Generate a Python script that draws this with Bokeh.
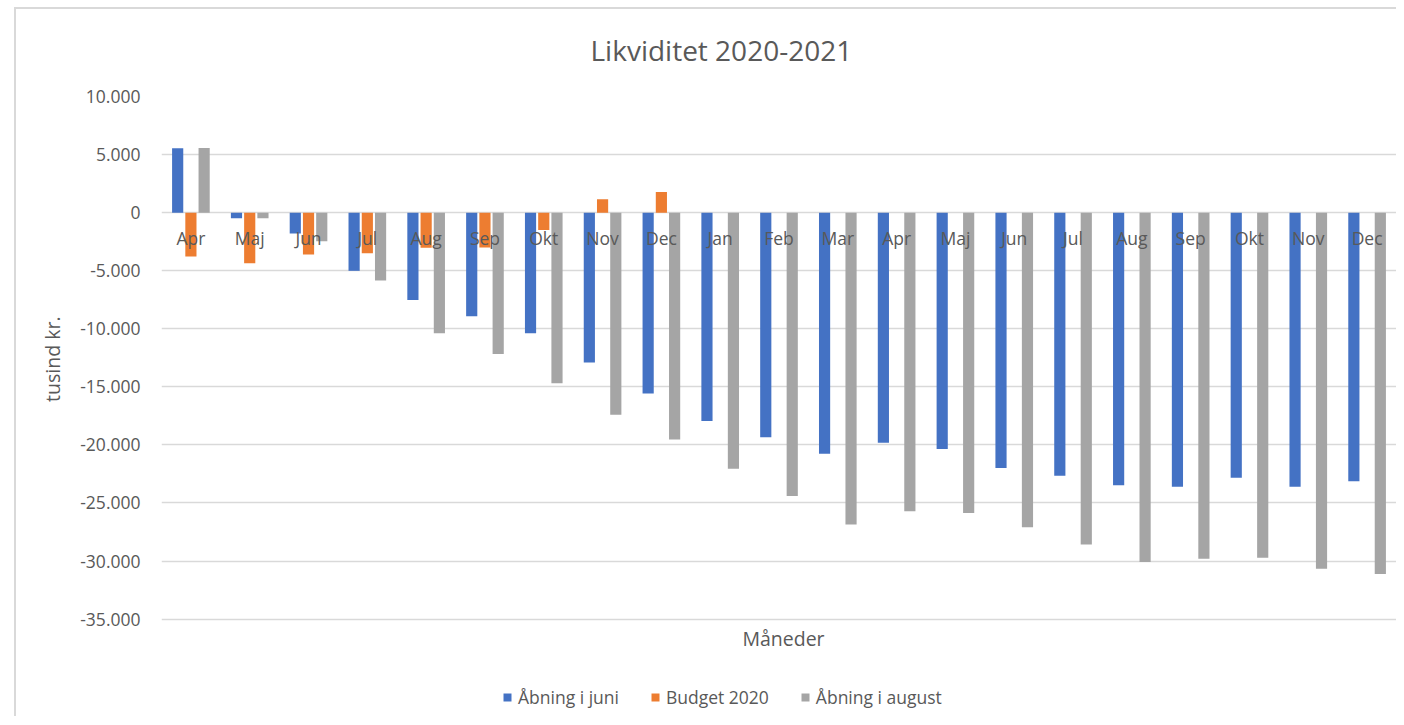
import math
from bokeh.plotting import figure
from bokeh.models import (ColumnDataSource, Range1d, FixedTicker, CustomJSTickFormatter,
                          Legend, LegendItem, Label, Title)
from bokeh.core.properties import value
from bokeh.transform import dodge
from bokeh.embed import file_html
from bokeh.resources import INLINE

months = ["Apr", "Maj", "Jun", "Jul", "Aug", "Sep", "Okt", "Nov", "Dec",
          "Jan", "Feb", "Mar", "Apr", "Maj", "Jun", "Jul", "Aug", "Sep", "Okt", "Nov", "Dec"]
aabning_juni = [5550, -490, -1800, -5010, -7530, -8930, -10390, -12910, -15570,
                -17940, -19330, -20760, -19820, -20360, -21990, -22650, -23480, -23600,
                -22820, -23600, -23130]
budget_2020 = [-3780, -4350, -3610, -3490, -3030, -3010, -1490, 1150, 1770,
               float("nan"), float("nan"), float("nan"), float("nan"), float("nan"),
               float("nan"), float("nan"), float("nan"), float("nan"), float("nan"),
               float("nan"), float("nan")]
aabning_august = [5560, -490, -2470, -5840, -10390, -12170, -14690, -17410, -19530,
                  -22050, -24400, -26860, -25710, -25860, -27080, -28580, -30090, -29810,
                  -29720, -30670, -31120]
y_ticks = [-35000, -30000, -25000, -20000, -15000, -10000, -5000, 0, 5000, 10000]

FONT = "Open Sans"
TXT = "#595959"

# frame spans 92..716 px; value axis 10000 (92px) .. -35000 (618px)
H = 716
Y_TOP = 10000
Y_BOTTOM = -35000 - (H - 618) * 45000 / 526

idx = list(range(len(months)))
src = ColumnDataSource(dict(
    x=idx, month=months, juni=aabning_juni, budget=budget_2020, august=aabning_august,
    zero=[0] * len(months),
))

p = figure(width=1396, height=H, output_backend="svg", toolbar_location=None,
           x_range=Range1d(-0.5, len(months) - 0.5), y_range=Range1d(Y_BOTTOM, Y_TOP),
           x_axis_location=None,
           min_border_left=161, min_border_right=0, min_border_top=92, min_border_bottom=0)
p.outline_line_color = None
p.background_fill_color = "white"
p.border_fill_alpha = 0
# faint chart-area border (left and top edges), drawn as element background
p.styles = {
    "background": "linear-gradient(#D9D9D9, #D9D9D9) 14px 7px / 2px 709px no-repeat, "
                  "linear-gradient(#D9D9D9, #D9D9D9) 14px 7px / 1382px 2px no-repeat, white",
}

bw = 0.19
r1 = p.vbar(x=dodge("x", -0.225), top="juni", width=bw, source=src,
            fill_color="#4472C4", line_color=None)
r2 = p.vbar(x=dodge("x", 0.0), top="budget", width=bw, source=src,
            fill_color="#ED7D31", line_color=None)
r3 = p.vbar(x=dodge("x", 0.225), top="august", width=bw, source=src,
            fill_color="#A5A5A5", line_color=None)

p.text(x="x", y="zero", text="month", source=src, text_align="center",
       text_baseline="alphabetic", y_offset=25, text_font=value(FONT),
       text_font_size="17.5px", text_color=TXT)

# y axis
ya = p.yaxis[0]
ya.ticker = FixedTicker(ticks=y_ticks)
ya.formatter = CustomJSTickFormatter(code=r"""
const a = Math.abs(tick).toFixed(0);
const s = a.replace(/\B(?=(\d{3})+(?!\d))/g, ".");
return (tick < 0 ? "-" : "") + s;
""")
ya.axis_line_color = None
ya.major_tick_line_color = None
ya.minor_tick_line_color = None
ya.major_label_standoff = 15
ya.major_label_text_font = FONT
ya.major_label_text_font_size = "17.5px"
ya.major_label_text_color = TXT

p.xgrid.visible = False
p.ygrid.ticker = FixedTicker(ticks=y_ticks)
p.ygrid.grid_line_color = "#D9D9D9"
p.ygrid.grid_line_width = 1.5

# y axis title (left panel, placed near top of value axis)
p.add_layout(Title(text="tusind kr.", align="right", offset=220, vertical_align="bottom",
                   standoff=24, text_font=FONT, text_font_size="19.5px",
                   text_font_style="normal", text_color=TXT), "left")
# x axis title
p.add_layout(Label(x=622, x_units="screen", y=-36625, text="Måneder",
                   text_align="center", text_baseline="middle", text_font=FONT,
                   text_font_size="19.5px", text_color=TXT))

# title
p.title.text = "Likviditet 2020-2021"
p.title.align = "left"
p.title.offset = 429
p.title.text_font = FONT
p.title.text_font_size = "28px"
p.title.text_font_style = "normal"
p.title.text_color = TXT
p.title.standoff = 56

legend = Legend(items=[LegendItem(label="Åbning i juni", renderers=[r1]),
                       LegendItem(label="Budget 2020", renderers=[r2]),
                       LegendItem(label="Åbning i august", renderers=[r3])],
                orientation="horizontal", location=(341, 7),
                glyph_width=10, glyph_height=10, label_standoff=6, spacing=31,
                label_text_font=FONT, label_text_font_size="17.5px", label_text_color=TXT,
                border_line_color=None, background_fill_alpha=0, padding=0, margin=0)
p.add_layout(legend, "center")

open("out.html", "w").write(file_html(p, INLINE))
